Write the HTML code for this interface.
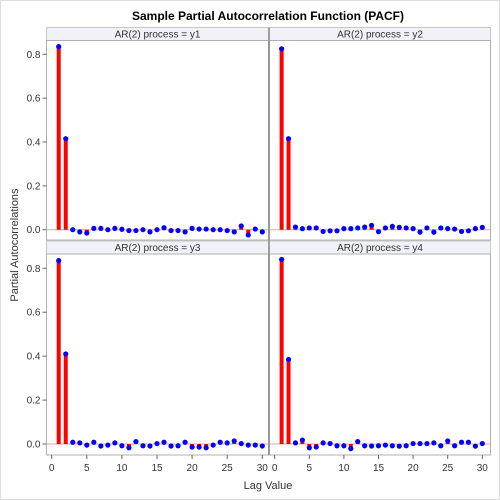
<!DOCTYPE html>
<html><head><meta charset="utf-8">
<style>
html,body{margin:0;padding:0;background:#fff;}
svg{display:block;font-family:"Liberation Sans",Arial,sans-serif;}
</style></head>
<body>
<svg id="chart" width="500" height="500" viewBox="0 0 500 500" xmlns="http://www.w3.org/2000/svg">
<rect x="0.5" y="0.5" width="499" height="499" fill="#fff" stroke="#ddd"/>
<text x="268" y="20" text-anchor="middle" font-size="12" font-weight="bold" fill="#000">Sample Partial Autocorrelation Function (PACF)</text>
<text transform="translate(18,245) rotate(-90)" text-anchor="middle" font-size="11" fill="#333">Partial Autocorrelations</text>
<text x="268" y="489" text-anchor="middle" font-size="11" fill="#333">Lag Value</text>
<g id="panels"></g>
</svg>
<script>
const lags = [1,2,3,4,5,6,7,8,9,10,11,12,13,14,15,16,17,18,19,20,21,22,23,24,25,26,27,28,29,30];
const y1 = [0.835,0.415,0.0,-0.01,-0.015,0.006,0.006,0.0,0.006,0.002,-0.004,-0.004,0.0,-0.01,0.0,0.009,-0.004,-0.004,-0.01,0.006,0.003,0.003,0.0,0.0,-0.004,-0.01,0.017,-0.024,0.003,-0.01];
const y2 = [0.825,0.415,0.012,0.005,0.008,0.008,-0.008,-0.005,-0.005,0.005,0.005,0.008,0.012,0.02,-0.009,0.008,0.015,0.011,0.008,0.005,-0.011,0.008,-0.011,0.008,0.005,0.003,-0.008,-0.005,0.005,0.011];
const y3 = [0.835,0.41,0.008,0.005,-0.005,0.008,-0.009,-0.005,0.005,-0.008,-0.017,0.011,-0.008,-0.009,0.002,0.008,-0.009,-0.008,0.008,-0.014,-0.014,-0.017,-0.005,0.008,0.005,0.014,0.002,-0.005,-0.005,-0.009];
const y4 = [0.84,0.385,0.005,0.018,-0.017,-0.014,0.005,0.002,-0.008,-0.008,-0.021,0.011,-0.008,-0.009,-0.008,-0.005,-0.008,-0.01,-0.008,0.002,0.002,0.002,0.005,-0.008,0.014,-0.008,0.008,0.008,-0.01,0.002];
const seriesNames = ["y1","y2","y3","y4"];
const yTicks = [0.0,0.2,0.4,0.6,0.8];
const xTicks = [0,5,10,15,20,25,30];

const NS = "http://www.w3.org/2000/svg";
const root = document.getElementById("panels");
function mk(tag, attrs, parent){
  const e = document.createElementNS(NS, tag);
  for (const k in attrs) e.setAttribute(k, attrs[k]);
  (parent||root).appendChild(e);
  return e;
}
const cols = [{x0:46.5,x1:268.5,l0:51.7,l30:262.3},{x0:269.5,x1:490.5,l0:274.7,l30:482.3}];
const rows = [{h0:27.5,h1:40.5,p1:240,z:229.7,t:54.3},{h0:241,h1:254,p1:455,z:444,t:268.3}];
const all = [y1,y2,y3,y4];
for (let i=0;i<4;i++){
  const c = cols[i%2], r = rows[Math.floor(i/2)];
  const xs = l => c.l0 + (l/30)*(c.l30-c.l0);
  const ys = v => r.z - (v/0.8)*(r.z-r.t);
  const g = mk("g",{});
  
  
  const hdr = mk("rect",{x:c.x0,y:r.h0,width:c.x1-c.x0,height:r.h1-r.h0,fill:"#f0f2f8",stroke:"#c8c8c8"},g);
  
  
  const ht = mk("text",{x:(c.x0+c.x1)/2,y:r.h1-3,"text-anchor":"middle","font-size":"10",fill:"#333"},g);
  ht.textContent = "AR(2) process = " + seriesNames[i];
  
  
  const fr = mk("rect",{x:c.x0,y:r.h1,width:c.x1-c.x0,height:r.p1-r.h1,fill:"none",stroke:"#b0b0b0"},g);
  
  
  const zl = mk("line",{x1:c.x0,x2:c.x1,y1:ys(0),y2:ys(0),stroke:"#f4a0a0","stroke-width":"1"},g);
  
  
  const vals = all[i];
  lags.forEach((l,j)=>{
    const n = mk("line",{x1:xs(l),x2:xs(l),y1:ys(0),y2:ys(vals[j]),stroke:"#ff0000","stroke-width":"4"},g);
    
    
  });
  lags.forEach((l,j)=>{
    const d = mk("circle",{cx:xs(l),cy:ys(vals[j]),r:"2.6",fill:"#0000ff"},g);
    
    
  });
  if (i%2===0){
    yTicks.forEach(t=>{
      const tl = mk("line",{x1:c.x0-4,x2:c.x0,y1:ys(t),y2:ys(t),stroke:"#666"},g);
      
      
      const tx = mk("text",{x:c.x0-6,y:ys(t)+3.5,"text-anchor":"end","font-size":"10",fill:"#333"},g);
      tx.textContent = t.toFixed(1);
      
      
    });
  }
  if (i>=2){
    xTicks.forEach(t=>{
      const tl = mk("line",{x1:xs(t),x2:xs(t),y1:r.p1,y2:r.p1+4,stroke:"#666"},g);
      
      
      const tx = mk("text",{x:xs(t),y:r.p1+16,"text-anchor":"middle","font-size":"10",fill:"#333"},g);
      tx.textContent = t;
      
      
    });
  }
}
const dv = mk("line",{x1:269,x2:269,y1:27.5,y2:455,stroke:"#909090","stroke-width":"1.5"});


</script>
</body></html>
